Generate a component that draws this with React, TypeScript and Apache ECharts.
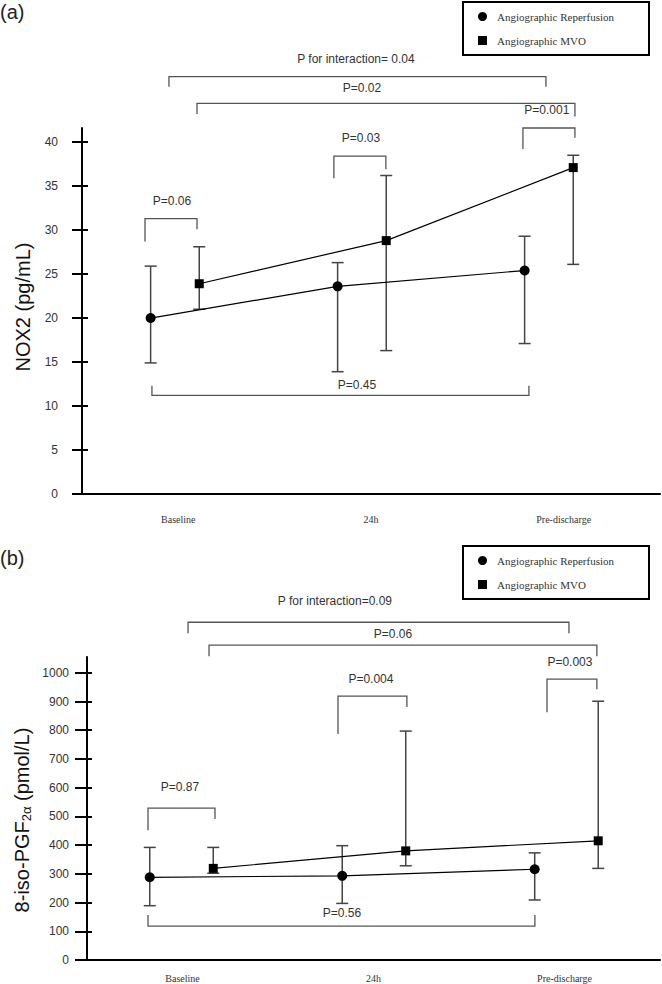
import React, { useEffect, useRef } from 'react';
import * as echarts from 'echarts';

// ---------- data ----------
const categories = ['Baseline', '24h', 'Pre-discharge'];
const seriesNames = ['Angiographic Reperfusion', 'Angiographic MVO'];

const nox2Ticks = [0, 5, 10, 15, 20, 25, 30, 35, 40];
const nox2ReperfusionMean = [20.0, 23.6, 25.4];
const nox2ReperfusionLow = [14.9, 13.9, 17.1];
const nox2ReperfusionHigh = [25.9, 26.3, 29.3];
const nox2MvoMean = [23.9, 28.8, 37.1];
const nox2MvoLow = [21.0, 16.3, 26.1];
const nox2MvoHigh = [28.1, 36.2, 38.5];
const nox2PLabels = ['P for interaction= 0.04', 'P=0.02', 'P=0.001', 'P=0.03', 'P=0.06', 'P=0.45'];

const isoTicks = [0, 100, 200, 300, 400, 500, 600, 700, 800, 900, 1000];
const isoReperfusionMean = [288, 293, 316];
const isoReperfusionLow = [189, 197, 209];
const isoReperfusionHigh = [392, 398, 373];
const isoMvoMean = [319, 380, 415];
const isoMvoLow = [302, 328, 319];
const isoMvoHigh = [392, 797, 901];
const isoPLabels = ['P for interaction=0.09', 'P=0.06', 'P=0.003', 'P=0.004', 'P=0.87', 'P=0.56'];

// ---------- layout (annotation geometry in axis units) ----------
// [xLeft, xRight, yBar, yLeftEnd, yRightEnd, xLabel, yLabel]
const nox2BracketGeom = [
  [-0.032, 1.984, 47.45, 46.3, 46.3, 0.968, 49.4],
  [0.118, 2.139, 44.4, 43.2, 42.9, 1.0, 46.2],
  [1.861, 2.139, 41.6, 39.2, 40.5, 1.989, 43.7],
  [0.85, 1.128, 38.4, 35.9, 36.9, 0.995, 40.5],
  [-0.16, 0.118, 31.3, 28.7, 30.1, -0.016, 33.3],
  [-0.123, 1.893, 11.2, 12.3, 12.3, 0.973, 12.4],
];
const isoBracketGeom = [
  [0.034, 2.013, 1176, 1138, 1138, 0.797, 1250],
  [0.143, 2.158, 1096, 1058, 1058, 1.099, 1135],
  [1.899, 2.158, 978, 863, 943, 2.018, 1037],
  [0.813, 1.171, 919, 787, 881, 0.984, 978],
  [-0.174, 0.174, 529, 452, 491, -0.008, 602],
  [-0.174, 1.836, 118, 157, 157, 0.834, 164],
];

const SANS = 'Liberation Sans, Arial, sans-serif';
const SERIF = 'Liberation Serif, Times New Roman, serif';

function buildPanel(
  gi: number,
  opts: {
    offset: number;
    xMin: number;
    xMax: number;
    yMax: number;
    ticks: number[];
    repMean: number[]; repLow: number[]; repHigh: number[];
    mvoMean: number[]; mvoLow: number[]; mvoHigh: number[];
    pLabels: string[];
    geom: number[][];
    labelMarginX: number;
    labelMarginY: number;
    tickOut: number;
    tickIn: number;
  }
) {
  const xValueAxisIndex = gi * 2;
  const yMainIndex = gi * 2;
  const xAxes = [
    {
      type: 'value', gridIndex: gi, min: opts.xMin, max: opts.xMax,
      axisLine: { show: true, onZero: false, lineStyle: { color: '#000', width: 2 } },
      axisTick: { show: false }, axisLabel: { show: false }, splitLine: { show: false },
    },
    {
      type: 'category', gridIndex: gi, data: categories, position: 'bottom', boundaryGap: true,
      axisLine: { show: false, onZero: false }, axisTick: { show: false }, splitLine: { show: false },
      axisLabel: { margin: opts.labelMarginX, fontFamily: SERIF, fontSize: 10, color: '#333' },
    },
  ];
  const yAxes = [
    {
      type: 'value', gridIndex: gi, min: 0, max: opts.yMax, position: 'left',
      axisLine: { show: true, onZero: false, lineStyle: { color: '#000', width: 2 } },
      axisTick: { show: true, length: opts.tickOut, customValues: opts.ticks, lineStyle: { color: '#000', width: 2 } },
      axisLabel: {
        customValues: opts.ticks, margin: opts.labelMarginY, fontFamily: SANS, fontSize: 12, color: '#333',
        formatter: (v: number) => String(v),
      },
      splitLine: { show: false },
    },
    {
      type: 'value', gridIndex: gi, min: 0, max: opts.yMax, position: 'left',
      axisLine: { show: false, onZero: false },
      axisTick: { show: true, inside: true, length: opts.tickIn, customValues: opts.ticks, lineStyle: { color: '#000', width: 2 } },
      axisLabel: { show: false }, splitLine: { show: false },
    },
  ];

  const repX = categories.map((_, i) => i - opts.offset);
  const mvoX = categories.map((_, i) => i + opts.offset);

  const errRender = (params: any, api: any) => {
    const x = api.value(0);
    const lo = api.coord([x, api.value(1)]);
    const hi = api.coord([x, api.value(2)]);
    const hw = 6;
    const st = { stroke: '#444', lineWidth: 1.5 };
    return {
      type: 'group',
      children: [
        { type: 'line', shape: { x1: lo[0], y1: lo[1], x2: hi[0], y2: hi[1] }, style: st },
        { type: 'line', shape: { x1: lo[0] - hw, y1: lo[1], x2: lo[0] + hw, y2: lo[1] }, style: st },
        { type: 'line', shape: { x1: hi[0] - hw, y1: hi[1], x2: hi[0] + hw, y2: hi[1] }, style: st },
      ],
    };
  };

  const bracketRender = (params: any, api: any) => {
    const g = opts.geom[params.dataIndex];
    const a = api.coord([g[0], g[3]]);
    const b = api.coord([g[0], g[2]]);
    const c = api.coord([g[1], g[2]]);
    const d = api.coord([g[1], g[4]]);
    const t = api.coord([g[5], g[6]]);
    return {
      type: 'group',
      children: [
        {
          type: 'polyline',
          shape: { points: [a, b, c, d] },
          style: { stroke: '#555', lineWidth: 1.3, fill: null },
        },
        {
          type: 'text', x: t[0], y: t[1],
          style: {
            text: opts.pLabels[params.dataIndex], fill: '#333',
            fontFamily: SANS, fontSize: 12, align: 'center', verticalAlign: 'middle',
          },
        },
      ],
    };
  };

  const series = [
    {
      type: 'custom', name: 'err-rep-' + gi, xAxisIndex: xValueAxisIndex, yAxisIndex: yMainIndex,
      renderItem: errRender, z: 2, silent: true,
      data: categories.map((_, i) => [repX[i], opts.repLow[i], opts.repHigh[i]]),
    },
    {
      type: 'custom', name: 'err-mvo-' + gi, xAxisIndex: xValueAxisIndex, yAxisIndex: yMainIndex,
      renderItem: errRender, z: 2, silent: true,
      data: categories.map((_, i) => [mvoX[i], opts.mvoLow[i], opts.mvoHigh[i]]),
    },
    {
      type: 'line', name: seriesNames[0], xAxisIndex: xValueAxisIndex, yAxisIndex: yMainIndex,
      data: categories.map((_, i) => [repX[i], opts.repMean[i]]),
      symbol: 'circle', symbolSize: 10, z: 3,
      itemStyle: { color: '#000' }, lineStyle: { color: '#000', width: 1.2 },
    },
    {
      type: 'line', name: seriesNames[1], xAxisIndex: xValueAxisIndex, yAxisIndex: yMainIndex,
      data: categories.map((_, i) => [mvoX[i], opts.mvoMean[i]]),
      symbol: 'rect', symbolSize: 9, z: 3,
      itemStyle: { color: '#000' }, lineStyle: { color: '#000', width: 1.2 },
    },
    {
      type: 'custom', name: 'brackets-' + gi, xAxisIndex: xValueAxisIndex, yAxisIndex: yMainIndex,
      renderItem: bracketRender, z: 2, silent: true, clip: false,
      data: opts.geom.map((g) => [g[5], g[6]]),
    },
  ];
  return { xAxes, yAxes, series };
}

export default function App() {
  const ref = useRef<HTMLDivElement>(null);
  useEffect(() => {
    if (!ref.current) return;
    const chart = echarts.init(ref.current, null, { renderer: 'svg' });

    const top = buildPanel(0, {
      offset: 0.13, xMin: -0.497, xMax: 2.594, yMax: 41.6, ticks: nox2Ticks,
      repMean: nox2ReperfusionMean, repLow: nox2ReperfusionLow, repHigh: nox2ReperfusionHigh,
      mvoMean: nox2MvoMean, mvoLow: nox2MvoLow, mvoHigh: nox2MvoHigh,
      pLabels: nox2PLabels, geom: nox2BracketGeom,
      labelMarginX: 20, labelMarginY: 24, tickOut: 10, tickIn: 6,
    });
    const bottom = buildPanel(1, {
      offset: 0.165, xMin: -0.491, xMax: 2.486, yMax: 1055, ticks: isoTicks,
      repMean: isoReperfusionMean, repLow: isoReperfusionLow, repHigh: isoReperfusionHigh,
      mvoMean: isoMvoMean, mvoLow: isoMvoLow, mvoHigh: isoMvoHigh,
      pLabels: isoPLabels, geom: isoBracketGeom,
      labelMarginX: 13, labelMarginY: 18, tickOut: 12, tickIn: 5,
    });

    const legendCommon = {
      orient: 'vertical', left: 463, itemWidth: 9, itemHeight: 9, itemGap: 13,
      padding: [9, 35, 9, 15], borderColor: '#000', borderWidth: 2, selectedMode: false,
      textStyle: { fontFamily: SERIF, fontSize: 11, color: '#333', padding: [0, 0, 0, 5] },
      data: [
        { name: seriesNames[0], icon: 'circle' },
        { name: seriesNames[1], icon: 'rect' },
      ],
    };

    chart.setOption({
      animation: false,
      backgroundColor: '#fff',
      grid: [
        { left: 82, right: 2, top: 128, bottom: 490 },
        { left: 87, right: 2, top: 657, bottom: 24 },
      ],
      legend: [
        { ...legendCommon, top: 2 },
        { ...legendCommon, top: 546 },
      ],
      xAxis: [...top.xAxes, ...bottom.xAxes],
      yAxis: [...top.yAxes, ...bottom.yAxes],
      series: [...top.series, ...bottom.series],
      graphic: [
        { type: 'text', left: 0, top: 2, style: { text: '(a)', fontFamily: SANS, fontSize: 20, fill: '#222' } },
        { type: 'text', left: 0, top: 548, style: { text: '(b)', fontFamily: SANS, fontSize: 20, fill: '#222' } },
        {
          type: 'text', x: 23, y: 307, rotation: Math.PI / 2,
          style: { text: 'NOX2 (pg/mL)', fontFamily: SANS, fontSize: 20, fill: '#111', align: 'center', verticalAlign: 'middle' },
        },
        {
          type: 'text', x: 22, y: 820, rotation: Math.PI / 2,
          style: {
            text: '{a|8-iso-PGF}{s|2α}{a| (pmol/L)}', fill: '#111', align: 'center', verticalAlign: 'middle',
            rich: {
              a: { fontFamily: SANS, fontSize: 20, fill: '#111' },
              s: { fontFamily: SANS, fontSize: 13, fill: '#111', padding: [9, 0, 0, 0] },
            },
          },
        },
      ],
    });
    return () => chart.dispose();
  }, []);
  return <div ref={ref} style={{ position: 'absolute', left: 0, top: 0, width: 662, height: 984 }} />;
}
